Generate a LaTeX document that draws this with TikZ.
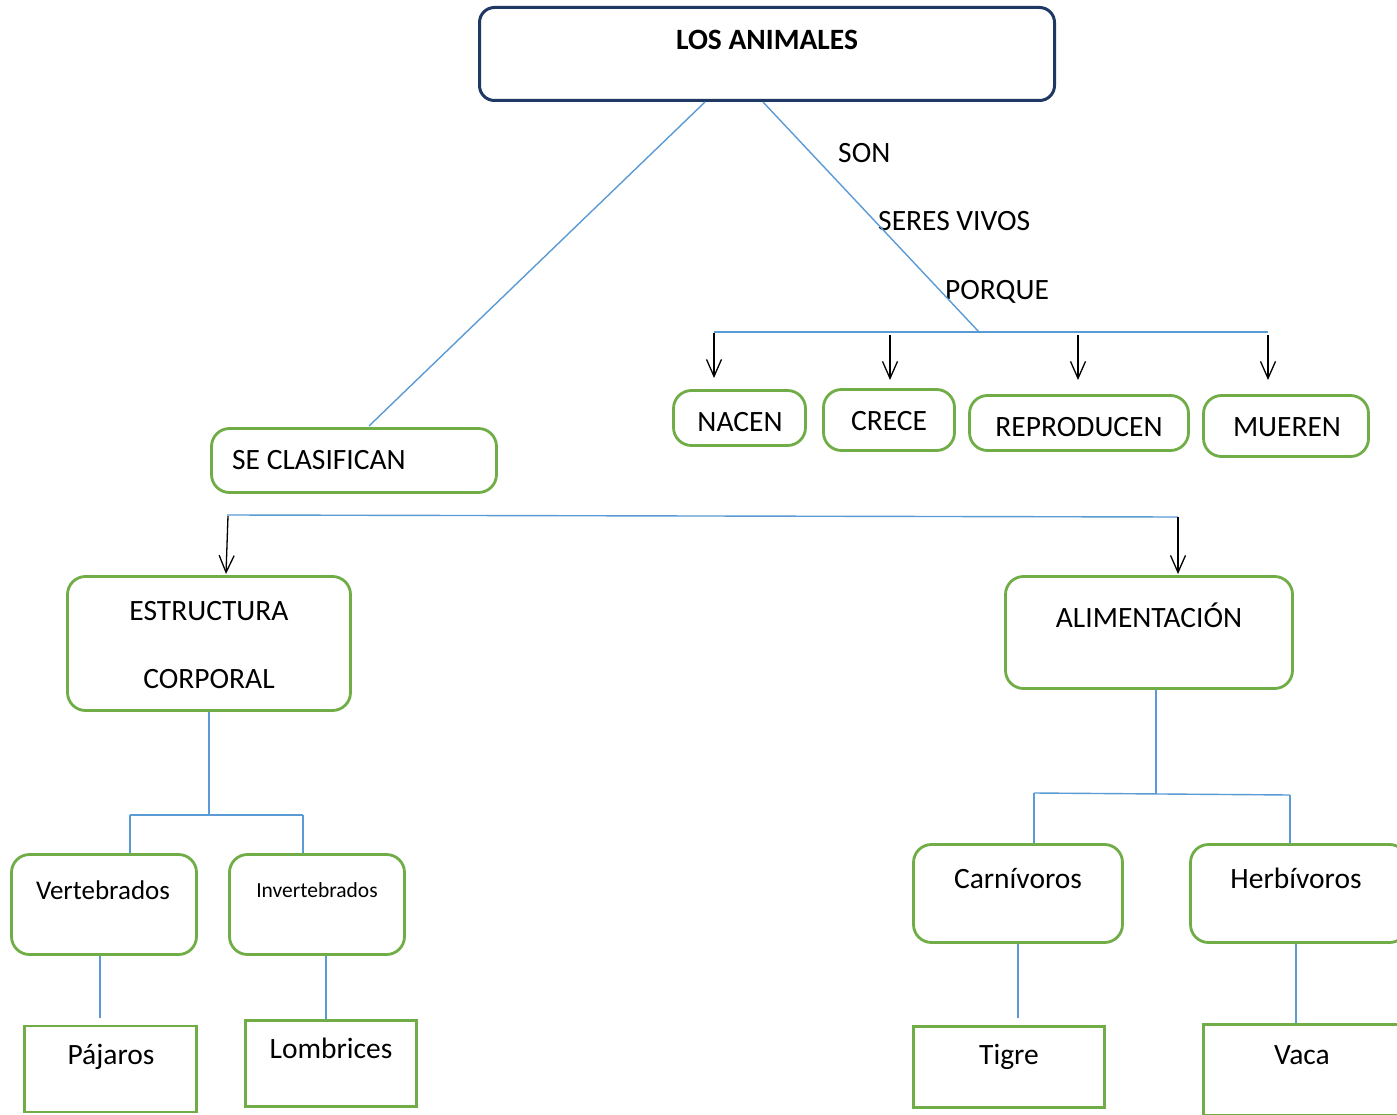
\documentclass[tikz,border=0pt]{standalone}
\usepackage{fontspec}
\setmainfont{Carlito}
\usetikzlibrary{arrows.meta}
\definecolor{navy}{HTML}{1F3864}
\definecolor{gr}{HTML}{70AD47}
\definecolor{bl}{HTML}{5B9BD5}
\begin{document}
\begin{tikzpicture}[x=1pt,y=-1pt,
 gbox/.style={draw=gr, line width=2.8pt, rounded corners=18pt, inner sep=0pt},
 rbox/.style={draw=gr, line width=2.8pt, inner sep=0pt},
 sz/.style 2 args={minimum width=#1pt, minimum height=#2pt},
 txt/.style={anchor=base, inner sep=0pt, font=\fontsize{29.5}{34}\selectfont},
 conn/.style={draw=bl, line width=1.4pt},
 arr/.style={draw=black, line width=1.3pt, -{Straight Barb[length=17pt,width=15pt]}}]
\useasboundingbox[fill=white] (0,0) rectangle (1397,1115);

% top
\node[draw=navy, line width=3pt, rounded corners=15pt, inner sep=0pt, sz={575}{93}] (top) at (767,54) {};
\node[txt, font=\fontsize{29.5}{34}\selectfont\bfseries] (ttop) at (767,50) {LOS ANIMALES};

% second level boxes
\node[gbox, sz={132}{55}] (nacen) at (739.5,418) {};
\node[txt] (tnacen) at (740,431) {NACEN};
\node[gbox, sz={131}{61}] (crece) at (889,420) {};
\node[txt] (tcrece) at (889,430) {CRECE};
\node[gbox, sz={219}{55}] (repro) at (1079,423) {};
\node[txt] (trepro) at (1079,436) {REPRODUCEN};
\node[gbox, sz={165}{61}] (mueren) at (1286,426) {};
\node[txt] (tmueren) at (1287,436) {MUEREN};

\node[gbox, sz={285}{64}] (clas) at (354,460.5) {};
\node[txt] (tclas) at (319,469) {SE CLASIFICAN};

% labels
\node[txt, anchor=base west] (son) at (838,163) {SON};
\node[txt, anchor=base west] (seres) at (878,231) {SERES VIVOS};
\node[txt, anchor=base west] (porque) at (945,299) {PORQUE};

% third level
\node[gbox, sz={283}{134}] (estr) at (209,643.5) {};
\node[txt] (testr1) at (209,620) {ESTRUCTURA};
\node[txt] (testr2) at (209,688) {CORPORAL};
\node[gbox, sz={287}{112}] (alim) at (1149,632.5) {};
\node[txt] (talim) at (1149,627) {ALIMENTACIÓN};

% fourth level
\node[gbox, sz={185}{100}] (vert) at (104,904.5) {};
\node[txt, font=\fontsize{27}{32}\selectfont] (tvert) at (103,899) {Vertebrados};
\node[gbox, sz={175}{100}] (inv) at (317,904.5) {};
\node[txt, font=\fontsize{21.5}{26}\selectfont] (tinv) at (317,897) {Invertebrados};
\node[gbox, sz={209}{98}] (carn) at (1018,893.5) {};
\node[txt] (tcarn) at (1018,888) {Carnívoros};
\node[gbox, sz={217}{98}] (herb) at (1299,893.5) {};
\node[txt] (therb) at (1296,888) {Herbívoros};

% leaves
\node[rbox, sz={172}{86}] (paj) at (110.5,1069) {};
\node[txt] (tpaj) at (111,1064) {Pájaros};
\node[rbox, sz={171}{86}] (lomb) at (331,1063.5) {};
\node[txt] (tlomb) at (331,1058) {Lombrices};
\node[rbox, sz={191}{81}] (tigre) at (1009,1067) {};
\node[txt] (ttigre) at (1009,1064) {Tigre};
\node[rbox, sz={205}{91}] (vaca) at (1306,1070) {};
\node[txt] (tvaca) at (1302,1064) {Vaca};

% coordinates
\coordinate (a1) at (705,102);
\coordinate (a2) at (369,426);
\coordinate (b1) at (763,102);
\coordinate (b2) at (979,332);
\coordinate (h1) at (714,332);
\coordinate (h2) at (1268,332);
\coordinate (n1) at (714,333);
\coordinate (n2) at (714,378);
\coordinate (c1) at (890,335);
\coordinate (c2) at (890,380);
\coordinate (r1) at (1078,335);
\coordinate (r2) at (1078,380);
\coordinate (m1) at (1268,335);
\coordinate (m2) at (1268,380);
\coordinate (k1) at (227,515);
\coordinate (k2) at (1178,517);
\coordinate (e1) at (228,516);
\coordinate (e2) at (226,574);
\coordinate (f1) at (1178,517);
\coordinate (f2) at (1178,574);
\coordinate (ej) at (209,815);
\coordinate (ej1) at (130,815);
\coordinate (ej2) at (303,815);
\coordinate (aj) at (1156,794);
\coordinate (aj1) at (1034,793);
\coordinate (aj2) at (1290,795);

% connectors
\draw[conn] (a1) -- (a2);
\draw[conn] (b1) -- (b2);
\draw[conn] (h1) -- (h2);
\draw[arr] (n1) -- (n2);
\draw[arr] (c1) -- (c2);
\draw[arr] (r1) -- (r2);
\draw[arr] (m1) -- (m2);
\draw[conn] (k1) -- (k2);
\draw[arr] (e1) -- (e2);
\draw[arr] (f1) -- (f2);

\draw[conn] (estr.south) -- (ej);
\draw[conn] (ej1) -- (ej2);
\draw[conn] (ej1) -- (ej1 |- vert.north);
\draw[conn] (ej2) -- (ej2 |- inv.north);
\draw[conn] (vert.south -| 100,0) -- (100,1018);
\draw[conn] (inv.south -| 326,0) -- (lomb.north -| 326,0);

\draw[conn] (alim.south -| aj) -- (aj);
\draw[conn] (aj1) -- (aj2);
\draw[conn] (aj1) -- (aj1 |- carn.north);
\draw[conn] (aj2) -- (aj2 |- herb.north);
\draw[conn] (carn.south) -- (1018,1018);
\draw[conn] (herb.south -| 1296,0) -- (vaca.north -| 1296,0);
\end{tikzpicture}
\end{document}
